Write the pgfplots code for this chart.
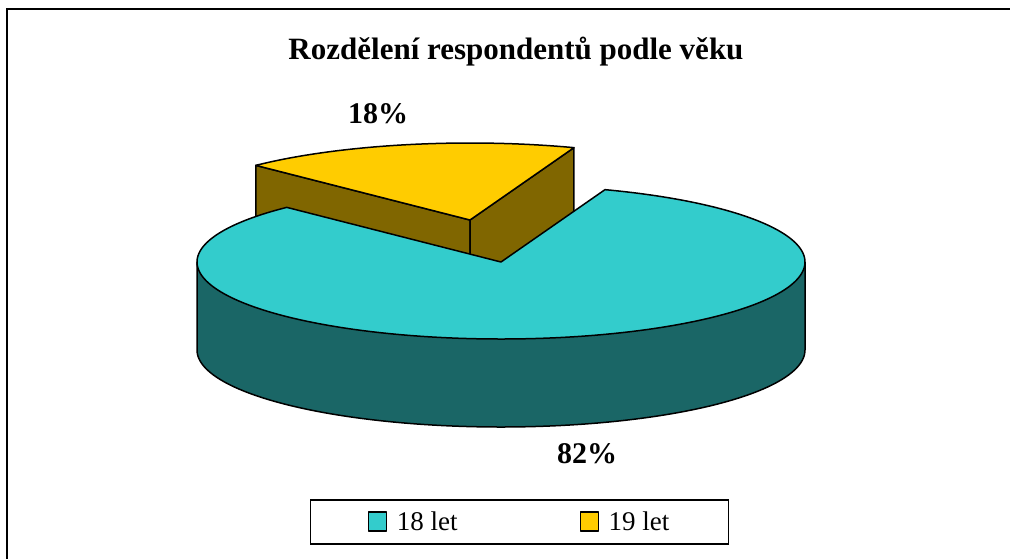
\documentclass[border=0pt]{standalone}
\usepackage{fontspec}
\setmainfont{Liberation Serif}
\usepackage{pgfplots}
\pgfplotsset{compat=1.18}
\definecolor{tealtop}{RGB}{51,204,204}
\definecolor{tealside}{RGB}{26,102,102}
\definecolor{yeltop}{RGB}{255,204,0}
\definecolor{yelside}{RGB}{128,102,0}
\begin{document}
\begin{tikzpicture}
% data (percent)
\def\valA{82}% 18 let
\def\valB{18}% 19 let
\pgfmathsetmacro\ys{70}
\pgfmathsetmacro\ye{\ys+\valB*3.6}
\pgfmathsetmacro\te{\ys+\valB*3.6+\valA*3.6}
% geometry (pixels)
\def\cx{501}\def\cy{262}\def\ra{304}\def\rb{77}\def\hh{88}
\def\yx{470}\def\yy{220}
\pgfmathsetmacro\exa{\yx+\ra*cos(\ys)}\pgfmathsetmacro\eya{\yy-\rb*sin(\ys)}
\pgfmathsetmacro\exb{\yx+\ra*cos(\ye)}\pgfmathsetmacro\eyb{\yy-\rb*sin(\ye)}
\pgfmathsetmacro\eyah{\eya+\hh}\pgfmathsetmacro\eybh{\eyb+\hh}
\pgfmathsetmacro\yyh{\yy+\hh}
\pgfmathsetmacro\xl{\cx-\ra}\pgfmathsetmacro\xr{\cx+\ra}
\begin{axis}[name=ax, width=1010pt, height=558pt, scale only axis,
  xmin=0, xmax=1010, ymin=0, ymax=558, y dir=reverse,
  axis lines=none, clip=false,
  legend columns=2,
  legend image code/.code={\draw[#1,draw=black,line width=1.2pt] (0pt,-9pt) rectangle (18pt,10pt);},
  legend style={at={(axis cs:519.5,522)}, anchor=center, draw=black, line width=1.5pt,
    font=\fontsize{27}{30}\selectfont, inner xsep=57pt, inner ysep=10pt,
    /tikz/every odd column/.append style={column sep=8pt},
    /tikz/every even column/.append style={column sep=120pt}},
  every axis plot/.append style={line width=1.5pt, line join=round}]
% yellow slice (exploded): radial faces
\addplot[fill=yelside, draw=black, forget plot] coordinates {(\exb,\eyb) (\yx,\yy) (\yx,\yyh) (\exb,\eybh)} -- cycle;
\addplot[fill=yelside, draw=black, forget plot] coordinates {(\yx,\yy) (\exa,\eya) (\exa,\eyah) (\yx,\yyh)} -- cycle;
% yellow top
\addplot[fill=yeltop, draw=black, domain=\ys:\ye, samples=60, forget plot]
  ({\yx+\ra*cos(x)},{\yy-\rb*sin(x)}) -- (\yx,\yy) -- cycle;
% teal side
\addplot[fill=tealside, draw=black, domain=180:360, samples=120, forget plot]
  ({\cx+\ra*cos(x)},{\cy+\hh-\rb*sin(x)}) -- (\xr,\cy) -- (\xl,\cy) -- cycle;
% teal top
\addplot[fill=tealtop, draw=black, domain=\ye:\te, samples=240, forget plot]
  ({\cx+\ra*cos(x)},{\cy-\rb*sin(x)}) -- (\cx,\cy) -- cycle;
\addlegendimage{fill=tealtop}
\addlegendentry{18 let}
\addlegendimage{fill=yeltop}
\addlegendentry{19 let}
\node[font=\bfseries\fontsize{31}{36}\selectfont] at (516,52) {Rozdělení respondentů podle věku};
\node[font=\bfseries\fontsize{30}{34}\selectfont] at (378,114) {18\%};
\node[font=\bfseries\fontsize{30}{34}\selectfont] at (587,454) {82\%};
\draw[line width=2pt] (7,600) -- (7,9) -- (1050,9);
\end{axis}
\pgfresetboundingbox
\useasboundingbox (ax.south west) rectangle (ax.north east);
\end{tikzpicture}
\end{document}
